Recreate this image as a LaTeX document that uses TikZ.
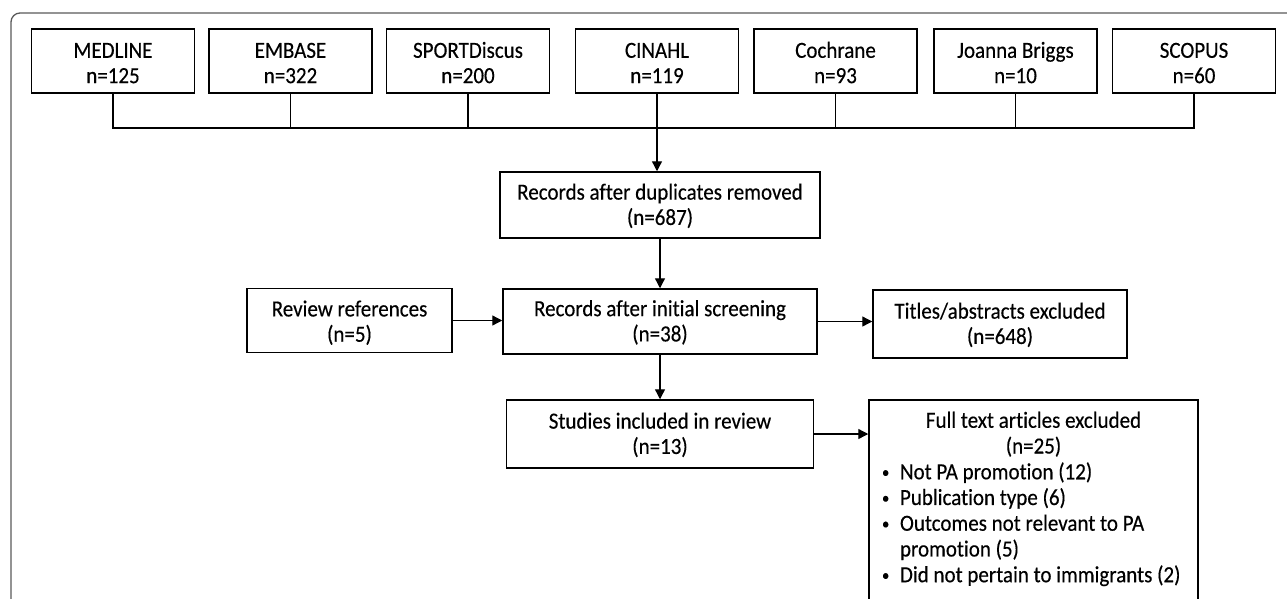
\documentclass[tikz,border=0pt]{standalone}
\usepackage{fontspec}
\usepackage{graphicx}
\setmainfont{Carlito}[Ligatures=NoCommon, FakeBold=0.35]
\newfontfamily\boxfont{Carlito}[Ligatures=NoCommon, FakeBold=0.35]
\usetikzlibrary{arrows.meta}
\newcommand{\tx}[2][2.2pt]{\raisebox{-#1}[\height][\depth]{\scalebox{1}[1.1]{\begin{tabular}{@{}c@{}}#2\end{tabular}}}}
\newcommand{\bul}{\hspace*{13pt}\makebox[18pt][l]{\raisebox{1.5pt}{\scalebox{0.7}{\textbullet}}}}
\begin{document}
\begin{tikzpicture}[x=1pt,y=-1pt,
  box/.style={draw=black, line width=1.5pt, align=center, inner sep=0pt,
    font=\boxfont\fontsize{21}{23}\selectfont},
  dbbox/.style={box, minimum width=163pt, minimum height=64pt},
  conn/.style={line width=1.3pt, black},
  arr/.style={conn, -{Triangle[length=10pt,width=10pt]}},
  frame/.style={draw=black!65, line width=1.3pt, rounded corners=9pt}]
\useasboundingbox (0,0) rectangle (1287,598);
\clip (0,0) rectangle (1287,598);
\draw[frame] (11,13) rectangle (1320,640);
% databases
\node[dbbox] (med) at (113,61) {\tx[4.4pt]{MEDLINE\\n=125}};
\node[dbbox] (emb) at (290.5,61) {\tx[4.4pt]{EMBASE\\n=322}};
\node[dbbox] (spo) at (468,61) {\tx[4.4pt]{SPORTDiscus\\n=200}};
\node[dbbox] (cin) at (657,61) {\tx[4.4pt]{CINAHL\\n=119}};
\node[dbbox] (coc) at (835.5,61) {\tx[4.4pt]{Cochrane\\n=93}};
\node[dbbox] (joa) at (1015.5,61) {\tx[4.4pt]{Joanna Briggs\\n=10}};
\node[dbbox] (sco) at (1194,61) {\tx[4.4pt]{SCOPUS\\n=60}};
\coordinate (bus) at (0,128);
% main flow
\node[box, minimum width=320pt, minimum height=66pt] (dup) at (660,205) {\tx{Records after duplicates removed\\(n=687)}};
\node[box, minimum width=314pt, minimum height=65pt] (scr) at (660,321.5) {\tx{Records after initial screening\\(n=38)}};
\node[box, minimum width=205pt, minimum height=64pt] (rev) at (349.5,320.5) {\tx[3.5pt]{Review references\\(n=5)}};
\node[box, minimum width=254pt, minimum height=68pt] (tit) at (1000,324) {\tx{Titles/abstracts excluded\\(n=648)}};
\node[box, minimum width=307pt, minimum height=68pt] (stu) at (660,434) {\tx{Studies included in review\\(n=13)}};
\node[box, anchor=north, inner ysep=10pt] (ft) at (1033.5,399) {\scalebox{1}[1.1]{\begin{minipage}{329pt}%
  \setlength{\parindent}{0pt}\fontsize{21}{23.4}\selectfont
  \makebox[329pt][c]{\strut Full text articles excluded}\\
  \makebox[329pt][c]{\strut(n=25)}\\
  \bul Not PA promotion (12)\\
  \bul Publication type (6)\\
  \bul Outcomes not relevant to PA\\
  \hspace*{31pt}promotion (5)\\
  \bul Did not pertain to immigrants (2)\\[30pt]
  \end{minipage}}};
% connectors
\draw[conn] (med.south) -- (med.south |- bus) -- (sco.south |- bus) -- (sco.south);
\foreach \n in {emb,spo,coc,joa} \draw[conn] (\n.south) -- (\n.south |- bus);
\draw[arr] (cin.south) -- (cin.south |- dup.north);
\draw[arr] (dup.south) -- (scr.north);
\draw[arr] (scr.south) -- (stu.north);
\draw[arr] (rev.east) -- (rev.east -| scr.west);
\draw[arr] (scr.east) -- (scr.east -| tit.west);
\draw[arr] (stu.east) -- (stu.east -| ft.west);
\end{tikzpicture}
\end{document}
